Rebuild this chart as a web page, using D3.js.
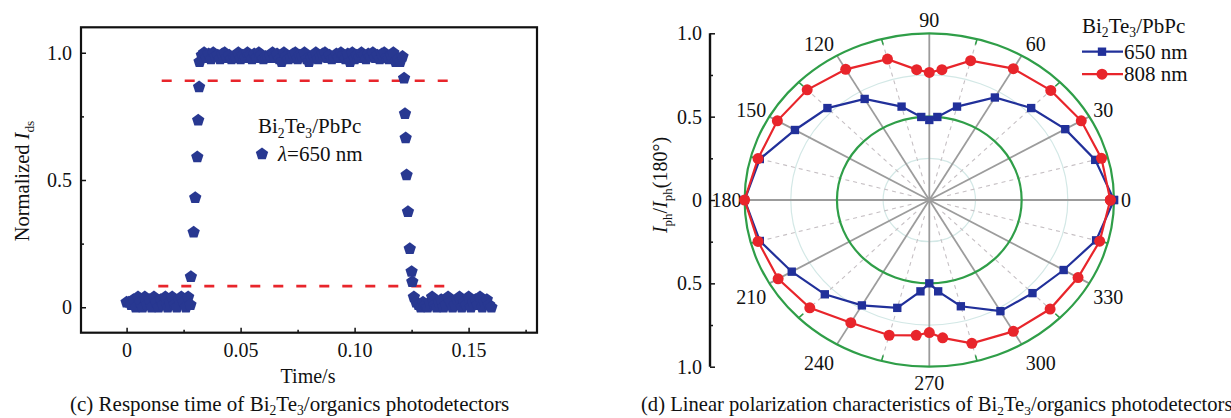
<!DOCTYPE html>
<html><head><meta charset="utf-8">
<script src="https://cdn.jsdelivr.net/npm/d3@7"></script>
<style>
body{margin:0;background:#fff}
text{font-family:"Liberation Serif","Times New Roman",serif;fill:#111}
</style>
</head><body>
<svg id="c" width="1231" height="418" xmlns="http://www.w3.org/2000/svg"></svg>
<script>
// ---------------- data: (c) response time ----------------
const darkBeforeT = [0.000,0.001,0.002,0.003,0.004,0.005,0.006,0.007,0.008,0.009,0.010,0.011,0.012,0.013,0.014,0.015,0.016,0.017,0.018,0.019,0.020,0.021,0.022,0.023,0.024,0.025,0.026,0.027,0.028];
const darkBeforeY = [0.02,0.02,0.01,0.03,0.00,0.04,0.02,0.00,0.04,0.01,0.03,0.00,0.04,0.02,0.00,0.03,0.01,0.04,0.00,0.02,0.04,0.01,0.00,0.03,0.04,0.02,0.00,0.04,0.01];
const riseT = [0.0282,0.0294,0.0301,0.0310,0.0314,0.0318];
const riseY = [0.12,0.295,0.43,0.59,0.735,0.865];
const lightT = [0.032,0.033,0.034,0.035,0.036,0.037,0.038,0.039,0.040,0.041,0.042,0.043,0.044,0.045,0.046,0.047,0.048,0.049,0.050,0.051,0.052,0.053,0.054,0.055,0.056,0.057,0.058,0.059,0.060,0.061,0.062,0.063,0.064,0.065,0.066,0.067,0.068,0.069,0.070,0.071,0.072,0.073,0.074,0.075,0.076,0.077,0.078,0.079,0.080,0.081,0.082,0.083,0.084,0.085,0.086,0.087,0.088,0.089,0.090,0.091,0.092,0.093,0.094,0.095,0.096,0.097,0.098,0.099,0.100,0.101,0.102,0.103,0.104,0.105,0.106,0.107,0.108,0.109,0.110,0.111,0.112,0.113,0.114,0.115,0.116,0.117,0.118,0.119,0.120,0.121];
const lightY = [0.965,0.99,1.0,0.98,0.995,0.975,1.0,0.985,0.99,0.975,
                0.995,1.0,0.98,0.99,0.975,0.985,0.98,1.0,0.975,0.99,
                0.98,1.0,0.99,0.975,0.995,0.98,1.0,0.99,0.975,0.985,
                0.98,0.99,1.0,0.98,0.995,0.975,0.965,1.0,0.985,0.975,
                0.98,0.995,1.0,0.975,0.99,0.985,1.0,0.975,0.965,0.98,
                0.99,1.0,0.975,0.985,0.995,1.0,0.98,0.99,0.975,0.98,
                0.995,0.98,1.0,0.99,0.975,0.995,0.965,1.0,0.975,0.99,
                0.98,1.0,0.99,0.975,0.995,0.985,1.0,0.98,0.99,0.975,
                0.995,1.0,0.98,0.975,0.99,1.0,0.965,0.975,0.965,0.985];
const fallT = [0.1217,0.1221,0.1224,0.1228,0.1234,0.1242,0.1250,0.1253];
const fallY = [0.90,0.76,0.665,0.52,0.375,0.23,0.14,0.10];
const darkAfterT = [0.126,0.127,0.128,0.129,0.130,0.131,0.132,0.133,0.134,0.135,0.136,0.137,0.138,0.139,0.140,0.141,0.142,0.143,0.144,0.145,0.146,0.147,0.148,0.149,0.150,0.151,0.152,0.153,0.154,0.155,0.156,0.157,0.158,0.159,0.160];
const darkAfterY = [0.04,0.02,0.01,0.00,0.02,0.01,0.00,0.02,0.04,0.01,0.00,0.02,0.03,0.00,0.01,0.04,0.02,0.00,0.01,0.03,0.04,0.00,0.02,0.01,0.04,0.00,0.02,0.03,0.01,0.04,0.00,0.02,0.03,0.01,0.00];
const thresholdLevels = [0.89, 0.083];
const thresholdStart = [0.0154, 0.0139];
const thresholdEnd = [0.1426, 0.1407];
const xMajorTicks = [0, 0.05, 0.10, 0.15];
const xTickLabels = ["0", "0.05", "0.10", "0.15"];
const xMinorTicks = [0.025, 0.075, 0.125, 0.175];
const yMajorTicks = [0, 0.5, 1.0];
const yTickLabels = ["0", "0.5", "1.0"];
const yMinorTicks = [0.25, 0.75];

// ---------------- data: (d) polarization ----------------
const polarAngles = [0,15,30,45,60,75,85,90,95,105,120,135,150,165,180,195,210,225,240,255,265,270,275,285,300,315,330,345,360];
const r650 = [1.00,0.93,0.85,0.78,0.71,0.58,0.50,0.48,0.50,0.58,0.70,0.78,0.84,0.95,1.00,0.95,0.86,0.80,0.73,0.67,0.55,0.50,0.55,0.66,0.77,0.79,0.84,0.935,1.00];
const r808 = [0.98,0.965,0.95,0.93,0.91,0.865,0.785,0.765,0.785,0.875,0.905,0.935,0.95,0.96,1.00,0.96,0.945,0.915,0.85,0.84,0.815,0.795,0.83,0.89,0.91,0.925,0.93,0.955,0.98];
const angleLabels = [0,30,60,90,120,150,180,210,240,270,300,330];
const minorAngles = [15,45,75,105,135,165,195,225,255,285,315,345];
const polarAxisTicks = [-1,-0.5,0,0.5,1];
const polarAxisLabels = ["1.0","0.5","0","0.5","1.0"];
const polarAxisMinor = [-0.75,-0.25,0.25,0.75];

// ---------------- helpers ----------------
const svg = d3.select("#c");
svg.append("rect").attr("width",1231).attr("height",418).attr("fill","#fff");
const NAVY = "#283891", BLUE = "#21309a", RED = "#e8252b", GREEN = "#2f9e48";

function rich(g, x, y, parts, fs, subShift = 0.25) {
  const t = g.append("text").attr("x", x).attr("y", y).attr("font-size", fs);
  let shift = 0;
  parts.forEach(p => {
    const s = t.append("tspan").text(p.t);
    const target = p.sub ? fs * subShift : 0;
    if (target !== shift) { s.attr("dy", target - shift); shift = target; }
    if (p.sub) s.attr("font-size", fs * 0.65);
    if (p.it) s.attr("font-style", "italic");
  });
  return t;
}
const bite = [{t:"Bi"},{t:"2",sub:true},{t:"Te"},{t:"3",sub:true}];

const pentagon = { draw(ctx, size) {
  const r = Math.sqrt(size / 2.378);
  for (let k = 0; k < 5; k++) {
    const a = -Math.PI / 2 + k * 2 * Math.PI / 5;
    const px = r * Math.cos(a), py = r * Math.sin(a);
    if (k) ctx.lineTo(px, py); else ctx.moveTo(px, py);
  }
  ctx.closePath();
}};

// ---------------- (c) chart ----------------
const x = d3.scaleLinear().domain([-0.02, 0.18]).range([81, 537]);
const y = d3.scaleLinear().domain([-0.1, 1.1]).range([332.7, 27.3]);
const gL = svg.append("g");

function styleAxis(sel) {
  sel.select(".domain").remove();
  sel.selectAll(".tick line").attr("stroke", "#111").attr("stroke-width", 1.5);
  sel.selectAll(".tick text").attr("font-size", 20).attr("fill", "#111")
     .attr("font-family", '"Liberation Serif","Times New Roman",serif');
}
gL.append("g").attr("transform", `translate(0,${y(-0.1)})`)
  .call(d3.axisBottom(x).tickValues(xMajorTicks).tickFormat((d, i) => xTickLabels[i]).tickSize(-5).tickPadding(10))
  .call(styleAxis);
gL.append("g").attr("transform", `translate(0,${y(-0.1)})`)
  .call(d3.axisBottom(x).tickValues(xMinorTicks).tickFormat("").tickSize(-3))
  .call(styleAxis);
gL.append("g").attr("transform", `translate(${x(-0.02)},0)`)
  .call(d3.axisLeft(y).tickValues(yMajorTicks).tickFormat((d, i) => yTickLabels[i]).tickSize(-5).tickPadding(9))
  .call(styleAxis);
gL.append("g").attr("transform", `translate(${x(-0.02)},0)`)
  .call(d3.axisLeft(y).tickValues(yMinorTicks).tickFormat("").tickSize(-3))
  .call(styleAxis);

// thresholds
thresholdLevels.forEach((lv, i) => {
  gL.append("line").attr("x1", x(thresholdStart[i])).attr("x2", x(thresholdEnd[i]))
    .attr("y1", y(lv)).attr("y2", y(lv))
    .attr("stroke", RED).attr("stroke-width", 2.6).attr("stroke-dasharray", "10,13");
});

// points
const pts = [];
[[darkBeforeT, darkBeforeY], [riseT, riseY], [lightT, lightY], [fallT, fallY], [darkAfterT, darkAfterY]]
  .forEach(([ts, ys]) => ts.forEach((t, i) => pts.push({t, v: ys[i]})));
const sym = d3.symbol().type(pentagon).size(100);
gL.append("g").selectAll("path").data(pts).join("path")
  .attr("d", sym).attr("fill", NAVY)
  .attr("transform", d => `translate(${x(d.t)},${y(d.v)})`);

// frame
gL.append("rect").attr("x", x(-0.02)).attr("y", y(1.1))
  .attr("width", x(0.18) - x(-0.02)).attr("height", y(-0.1) - y(1.1))
  .attr("fill", "none").attr("stroke", "#111").attr("stroke-width", 2.2);

// legend
rich(gL, 258, 133, bite.concat([{t:"/PbPc"}]), 21);
gL.append("path").attr("d", sym).attr("fill", NAVY).attr("transform", "translate(262,154)");
rich(gL, 278, 161, [{t:"λ", it:true}, {t:"=650 nm"}], 21);

// axis titles
gL.append("text").attr("x", 308).attr("y", 383).attr("text-anchor", "middle").attr("font-size", 20).text("Time/s");
rich(gL, 0, 0, [{t:"Normalized "}, {t:"I", it:true}, {t:"ds", sub:true}], 20.5)
  .attr("transform", "translate(29,181) rotate(-90)").attr("text-anchor", "middle");

// caption
rich(svg, 70, 411, [{t:"(c) Response time of "}].concat(bite, [{t:"/organics photodetectors"}]), 21, 0.18);

// ---------------- (d) polar chart ----------------
const cx = 929.3, cy = 200;
const rX = d3.scaleLinear().domain([0, 1]).range([0, 184.7]);
const rY = d3.scaleLinear().domain([0, 1]).range([0, 166.7]);
const rad = a => a * Math.PI / 180;
const px = (a, r) => cx + rX(r) * Math.cos(rad(a));
const py = (a, r) => cy - rY(r) * Math.sin(rad(a));
const gP = svg.append("g");

// faint rings
[0.25, 0.75].forEach(r => gP.append("ellipse").attr("cx", cx).attr("cy", cy)
  .attr("rx", rX(r)).attr("ry", rY(r)).attr("fill", "none").attr("stroke", "#d3e8e6").attr("stroke-width", 1.2));
// dashed spokes
minorAngles.forEach(a => gP.append("line")
  .attr("x1", px(a, 0.1)).attr("y1", py(a, 0.1)).attr("x2", px(a, 1)).attr("y2", py(a, 1))
  .attr("stroke", "#c6c0c4").attr("stroke-width", 1.1).attr("stroke-dasharray", "4,4"));
// solid spokes
angleLabels.forEach(a => gP.append("line")
  .attr("x1", cx).attr("y1", cy).attr("x2", px(a, 1)).attr("y2", py(a, 1))
  .attr("stroke", "#9c9c9c").attr("stroke-width", 1.8));
gP.append("circle").attr("cx", cx).attr("cy", cy).attr("r", 3).attr("fill", "#9c9c9c");
// green circles
[0.5, 1].forEach(r => gP.append("ellipse").attr("cx", cx).attr("cy", cy)
  .attr("rx", rX(r)).attr("ry", rY(r)).attr("fill", "none").attr("stroke", GREEN).attr("stroke-width", 2.2));
minorAngles.forEach(a => gP.append("line")
  .attr("x1", px(a, 1)).attr("y1", py(a, 1)).attr("x2", px(a, 0.965)).attr("y2", py(a, 0.965))
  .attr("stroke", GREEN).attr("stroke-width", 1.6));

// angle labels
angleLabels.forEach(a => {
  const c = Math.cos(rad(a)), s = Math.sin(rad(a));
  const anchor = c > 0.1 ? "start" : (c < -0.1 ? "end" : "middle");
  const dx = c > 0.1 ? 4 : (c < -0.1 ? -3 : 0);
  const dy = -s * 13 + (s < -0.1 ? 7 : 0) - (s < -0.95 ? 4 : 0);
  gP.append("text").attr("x", px(a, 1) + dx + (a === 0 ? 3 : 0)).attr("y", py(a, 1) + dy)
    .attr("dy", "0.35em").attr("text-anchor", anchor).attr("font-size", 20).text(String(a));
});

// left value axis
const yP = d3.scaleLinear().domain([-1, 1]).range([cy + rY(1), cy - rY(1)]);
const axX = 710;
gP.append("g").attr("transform", `translate(${axX},0)`)
  .call(d3.axisLeft(yP).tickValues(polarAxisTicks).tickFormat((d, i) => polarAxisLabels[i]).tickSize(-5).tickPadding(8))
  .call(styleAxis);
gP.append("g").attr("transform", `translate(${axX},0)`)
  .call(d3.axisLeft(yP).tickValues(polarAxisMinor).tickFormat("").tickSize(-3))
  .call(styleAxis);
gP.append("line").attr("x1", axX).attr("x2", axX).attr("y1", yP(1)).attr("y2", yP(-1))
  .attr("stroke", "#111").attr("stroke-width", 2.4);
rich(gP, 0, 0, [{t:"I", it:true}, {t:"ph", sub:true}, {t:"/"}, {t:"I", it:true}, {t:"ph", sub:true}, {t:"(180°)"}], 20)
  .attr("transform", "translate(667,185) rotate(-90)").attr("text-anchor", "middle");

// data lines
const series = [
  {r: r650, color: BLUE, marker: "square"},
  {r: r808, color: RED, marker: "circle"}
];
const line = d3.line().x(d => px(d.a, d.r)).y(d => py(d.a, d.r));
series.forEach(s => {
  const data = polarAngles.map((a, i) => ({a, r: s.r[i]}));
  gP.append("path").datum(data).attr("d", line).attr("fill", "none")
    .attr("stroke", s.color).attr("stroke-width", 2.2);
  const m = d3.symbol().type(s.marker === "square" ? d3.symbolSquare : d3.symbolCircle)
    .size(s.marker === "square" ? 70 : 95);
  gP.append("g").selectAll("path").data(data).join("path")
    .attr("d", m).attr("fill", s.color)
    .attr("transform", d => `translate(${px(d.a, d.r)},${py(d.a, d.r)})`);
});

// legend
rich(gP, 1082, 33, bite.concat([{t:"/PbPc"}]), 21, 0.2);
series.forEach((s, i) => {
  const ly = 51.7 + i * 22.5;
  gP.append("line").attr("x1", 1082).attr("x2", 1123).attr("y1", ly).attr("y2", ly)
    .attr("stroke", s.color).attr("stroke-width", 2.2);
  const m = d3.symbol().type(s.marker === "square" ? d3.symbolSquare : d3.symbolCircle)
    .size(s.marker === "square" ? 70 : 95);
  gP.append("path").attr("d", m).attr("fill", s.color).attr("transform", `translate(1102,${ly})`);
  gP.append("text").attr("x", 1124).attr("y", ly + 7).attr("font-size", 21).text(i === 0 ? "650 nm" : "808 nm");
});

// caption
rich(svg, 641, 411, [{t:"(d) Linear polarization characteristics of "}].concat(bite, [{t:"/organics photodetectors"}]), 20.6, 0.18);
</script>
</body></html>
